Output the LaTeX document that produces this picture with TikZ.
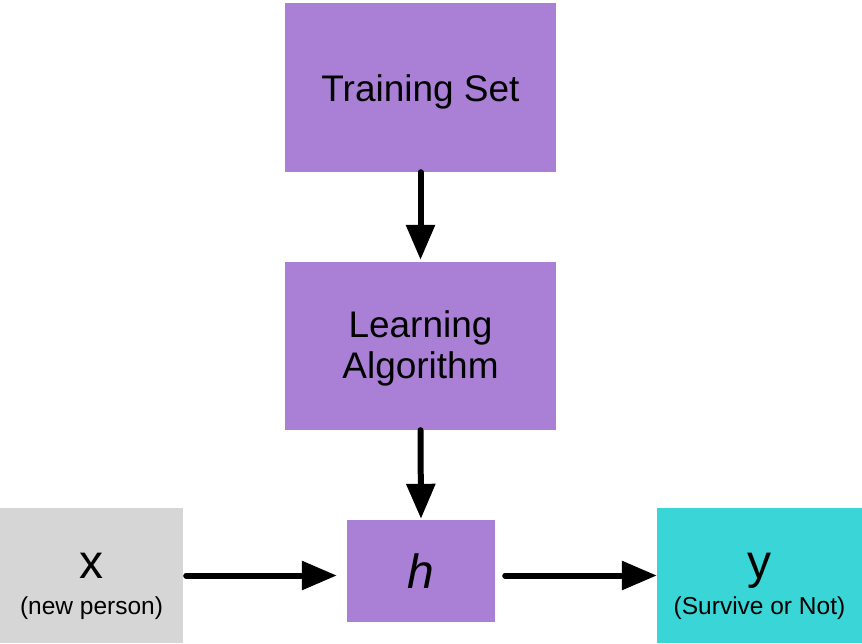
\documentclass[tikz,border=0pt]{standalone}
\usepackage{fontspec}
\setmainfont{Liberation Sans}
\usetikzlibrary{arrows.meta}
\definecolor{purp}{HTML}{AA80D6}
\definecolor{grayb}{HTML}{D6D6D6}
\definecolor{cyanb}{HTML}{3AD5D6}
\tikzset{
  box/.style={rectangle, inner sep=0pt, draw=none},
  txt/.style={anchor=base, inner sep=0pt},
  bigtxt/.style={font=\fontsize{37}{44}\selectfont},
  arr/.style={line width=6pt, line cap=round, -{Triangle[length=35pt,width=28pt]}},
}
\begin{document}
\begin{tikzpicture}[x=1pt,y=-1pt]
\useasboundingbox (0,0) rectangle (862,643);
\node[box, fill=purp, minimum width=271pt, minimum height=169pt] (ts) at (420.5,87.5) {};
\node[box, fill=purp, minimum width=271pt, minimum height=168pt] (la) at (420.5,346) {};
\node[box, fill=purp, minimum width=148pt, minimum height=102pt] (h) at (421,571) {};
\node[box, fill=grayb, minimum width=183pt, minimum height=135pt] (xbox) at (91.5,575.5) {};
\node[box, fill=cyanb, minimum width=205pt, minimum height=135pt] (ybox) at (759.5,575.5) {};
\node[txt, bigtxt] (tslab) at (420.5,101) {Training Set};
\node[txt, bigtxt] (lalab1) at (420.5,337) {Learning};
\node[txt, bigtxt] (lalab2) at (420.5,378) {Algorithm};
\node[txt, font=\fontsize{48}{48}\selectfont\itshape] (hlab) at (421,588) {h};
\node[txt, font=\fontsize{48}{48}\selectfont] (xlab) at (91.5,578) {x};
\node[txt, font=\fontsize{24.5}{28}\selectfont] (xsub) at (91.5,614) {(new person)};
\node[txt, font=\fontsize{48}{48}\selectfont] (ylab) at (759.5,578) {y};
\node[txt, font=\fontsize{24.5}{28}\selectfont] (ysub) at (759.5,614) {(Survive or Not)};
\draw[arr, shorten >=2pt] (ts.south) -- (la.north);
\draw[arr, shorten >=1pt] (la.south) -- (h.north);
\draw[arr, shorten <=3pt, shorten >=10pt] (xbox.east) -- (xbox.east -| h.west);
\draw[arr, shorten <=10pt] (ybox.west -| h.east) -- (ybox.west);
\end{tikzpicture}
\end{document}
